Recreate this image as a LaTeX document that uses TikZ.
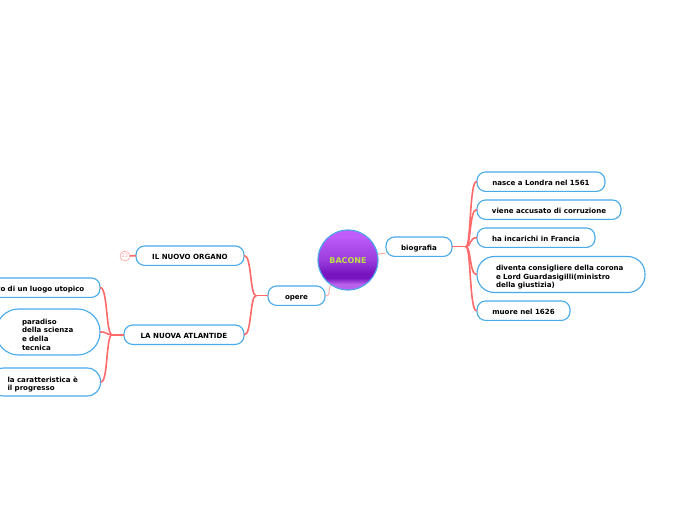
\documentclass[tikz,border=0pt]{standalone}
\usepackage{fontspec}
\setmainfont{DejaVu Sans}
\definecolor{boxblue}{RGB}{72,170,235}
\definecolor{linkred}{RGB}{255,105,105}
\definecolor{palered}{RGB}{255,165,160}
\definecolor{namegreen}{RGB}{190,225,70}
\pgfdeclareverticalshading{bubble}{100bp}{
	rgb(0bp)=(0.72,0.38,0.93);
	rgb(30bp)=(0.72,0.38,0.93);
	rgb(35bp)=(0.47,0.08,0.75);
	rgb(39bp)=(0.47,0.08,0.75);
	rgb(50bp)=(0.60,0.24,0.86);
	rgb(70bp)=(0.75,0.36,0.98);
	rgb(100bp)=(0.75,0.36,0.98)}
\tikzset{
	topic/.style={draw=boxblue,fill=white,line width=0.85pt,inner xsep=0pt,inner ysep=0pt,align=left,font=\fontsize{5.3}{6.5}\selectfont\bfseries},
	single/.style={topic,rounded corners=6.5pt,minimum height=14.6pt,align=center,text height=6pt,text depth=0.6pt},
	link/.style={draw=linkred,line width=1.2pt},
	thinlink/.style={draw=palered,line width=0.7pt}
}
\begin{document}
\begin{tikzpicture}[line cap=round,line join=round,x=0.75pt,y=-0.75pt]
	\useasboundingbox (0,0) rectangle (696,520);
	\clip (0,0) rectangle (696,520);
	% centre
	\node [circle,draw=boxblue,line width=0.85pt,shading=bubble,minimum size=45pt,inner sep=0pt,text=namegreen,text height=5.6pt,text depth=0.6pt,font=\fontsize{6}{8}\selectfont\bfseries] (bacone) at (348,260) {BACONE};
	% right side
	\node [single,minimum width=49.5pt] (biografia) at (419,246.7) {biografia};
	\node [single,minimum width=96pt] (nasce) at (541,181.7) {nasce a Londra nel 1561};
	\node [single,minimum width=108pt] (viene) at (549,209.7) {viene accusato di corruzione};
	\node [single,minimum width=88.5pt] (incarichi) at (536,237.7) {ha incarichi in Francia};
	\node [topic,rounded corners=13pt,minimum width=126pt,minimum height=27pt,text width=97.5pt] (diventa) at (561,274.5) {\rule{0pt}{8pt}diventa consigliere della corona\\e Lord Guardasigilli(ministro\\della giustizia)};
	\node [single,minimum width=69.75pt] (muore) at (523.5,310.7) {muore nel 1626};
	% left side
	\node [single,minimum width=42.75pt] (opere) at (296.5,295.7) {opere};
	\node [single,minimum width=81pt] (organo) at (190,255.7) {IL NUOVO ORGANO};
	\node [single,minimum width=90pt] (atlantide) at (184,334.7) {LA NUOVA ATLANTIDE};
	\node [single,minimum width=97.5pt,align=right,text width=74pt] (luogo) at (35,287.7) {to di un luogo utopico};
	\node [topic,rounded corners=17pt,minimum width=78pt,minimum height=34.5pt,text width=39pt] (paradiso) at (48,332) {\rule{0pt}{8pt}paradiso\\della scienza\\e della\\tecnica};
	\node [topic,rounded corners=10pt,minimum width=82.5pt,minimum height=21pt,text width=57pt] (progresso) at (45.5,382) {\rule{0pt}{8pt}la caratteristica è\\il progresso};
	\node [circle,draw=palered,line width=0.5pt,minimum size=7.5pt,inner sep=0pt,text=palered,font=\fontsize{3.6}{4}\selectfont] (nota) at (125,256) {22};
	% hubs
	\coordinate (hubbio) at (466,246.7);
	\coordinate (hubopere) at (256,295.7);
	\coordinate (hubatl) at (112,334.7);
	% connectors
	\draw [thinlink] (bacone) -- (biografia);
	\draw [thinlink] (bacone.-125) .. controls +(-3,6) and +(6,0) .. (opere.east);
	\draw [link] (biografia.east) -- (hubbio);
	\foreach \leaf in {nasce,viene,incarichi,diventa,muore}
		\draw [link] (hubbio) .. controls +(5,0) and +(-7,0) .. (\leaf.west);
	\draw [link] (opere.west) -- (hubopere);
	\foreach \leaf in {organo,atlantide}
		\draw [link] (hubopere) .. controls +(-6,0) and +(7,0) .. (\leaf.east);
	\draw [link] (atlantide.west) -- (hubatl);
	\foreach \leaf in {luogo,paradiso,progresso}
		\draw [link] (hubatl) .. controls +(-6,0) and +(7,0) .. (\leaf.east);
	\draw [link] (organo.west) -- (nota);
\end{tikzpicture}
\end{document}
